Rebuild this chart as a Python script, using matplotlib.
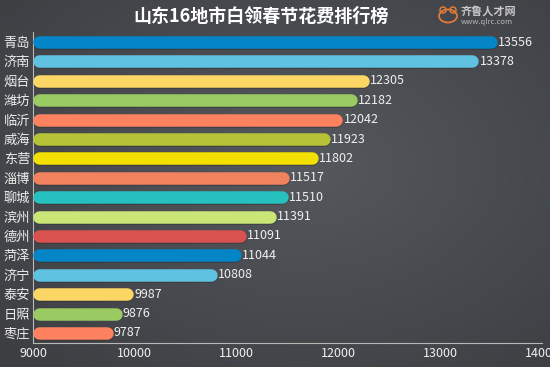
import numpy as np
import matplotlib
matplotlib.use("Agg")
import matplotlib.pyplot as plt
from matplotlib.patches import Ellipse

plt.rcParams['font.family'] = ['Noto Sans CJK SC', 'DejaVu Sans']

title = "山东16地市白领春节花费排行榜"
cities = ["青岛", "济南", "烟台", "潍坊", "临沂", "威海", "东营", "淄博",
          "聊城", "滨州", "德州", "菏泽", "济宁", "泰安", "日照", "枣庄"]
values = [13556, 13378, 12305, 12182, 12042, 11923, 11802, 11517,
          11510, 11391, 11091, 11044, 10808, 9987, 9876, 9787]
colors = ["#0385c8", "#5fc2e0", "#fcd765", "#9acb63", "#fe8160", "#b6c336",
          "#f3df00", "#f0825e", "#26c1bf", "#c9e676", "#d9524f", "#0385c8",
          "#5fc2e0", "#fcd765", "#9acb63", "#fe8160"]
xticks = [9000, 10000, 11000, 12000, 13000, 14000]
x0 = 9000

W, H, DPI = 550, 367, 100
fig = plt.figure(figsize=(W / DPI, H / DPI), dpi=DPI)

# background radial gradient
bg = fig.add_axes([0, 0, 1, 1])
yy, xx = np.mgrid[0:H, 0:W]
d = np.sqrt(((xx - W * 0.55) / W) ** 2 + ((yy - H * 0.45) / H) ** 2)
d = np.clip(d / 0.75, 0, 1)
c_in = np.array([0x55, 0x58, 0x5d]) / 255
c_out = np.array([0x3c, 0x3e, 0x42]) / 255
img = c_in[None, None, :] * (1 - d[..., None]) + c_out[None, None, :] * d[..., None]
bg.imshow(img, aspect='auto', extent=[0, 1, 0, 1])
bg.set_axis_off()

left_px, right_px, top_px, bot_px = 33, 542, 32, 343
ax = fig.add_axes([left_px / W, 1 - bot_px / H, (right_px - left_px) / W, (bot_px - top_px) / H])
ax.patch.set_alpha(0)
ax.set_xlim(9000, 14000)
n = len(cities)
ax.set_ylim(n - 0.48, -0.52)

px_per_unit = (right_px - left_px) / 5000.0
bar_px = 12.5
r = (bar_px / 2) / px_per_unit
lw = bar_px * 72 / DPI
for i, (v, c) in enumerate(zip(values, colors)):
    # subtle shadow
    ax.plot([x0 + r, v - r], [i + 0.05, i + 0.05], color="#2e3033", lw=lw,
            solid_capstyle='round', alpha=0.6, zorder=2)
    ax.plot([x0 + r, v - r], [i, i], color=c, lw=lw, solid_capstyle='round', zorder=3)
    ax.text(v + 8, i, str(v), va='center', ha='left', fontsize=9,
            color="#f0f0f0", zorder=4)

ax.set_yticks(range(n))
ax.set_yticklabels(cities, fontsize=9.5, color="#ececec")
ax.set_xticks(xticks)
ax.set_xticklabels([str(t) for t in xticks], fontsize=9, color="#f0f0f0")
ax.tick_params(axis='both', length=0, pad=3)
ax.tick_params(axis='y', pad=2)
for s in ['top', 'right']:
    ax.spines[s].set_visible(False)
for s in ['left', 'bottom']:
    ax.spines[s].set_color("#b8b8b8")
    ax.spines[s].set_linewidth(0.8)

fig.text(0.475, 1 - 16 / H, title, ha='center', va='center', fontsize=13,
         fontweight='bold', color="#ffffff")

# logo
bg2 = fig.add_axes([0, 0, 1, 1])
bg2.set_xlim(0, W)
bg2.set_ylim(H, 0)
bg2.set_axis_off()
bg2.patch.set_alpha(0)
bg2.add_patch(Ellipse((448, 16), 18, 13, fill=False, ec="#e07a3a", lw=1.3))
bg2.add_patch(Ellipse((443, 10), 6, 6, fill=False, ec="#e07a3a", lw=1.1))
bg2.add_patch(Ellipse((453, 10), 6, 6, fill=False, ec="#e07a3a", lw=1.1))
bg2.text(461, 12, "齐鲁人才网", fontsize=8, color="#c8c8c8", va='center', ha='left',
         fontweight='bold')
bg2.text(461, 22, "www.qlrc.com", fontsize=5.5, color="#b8b8b8", va='center', ha='left')

fig.savefig("out.png", dpi=DPI)
